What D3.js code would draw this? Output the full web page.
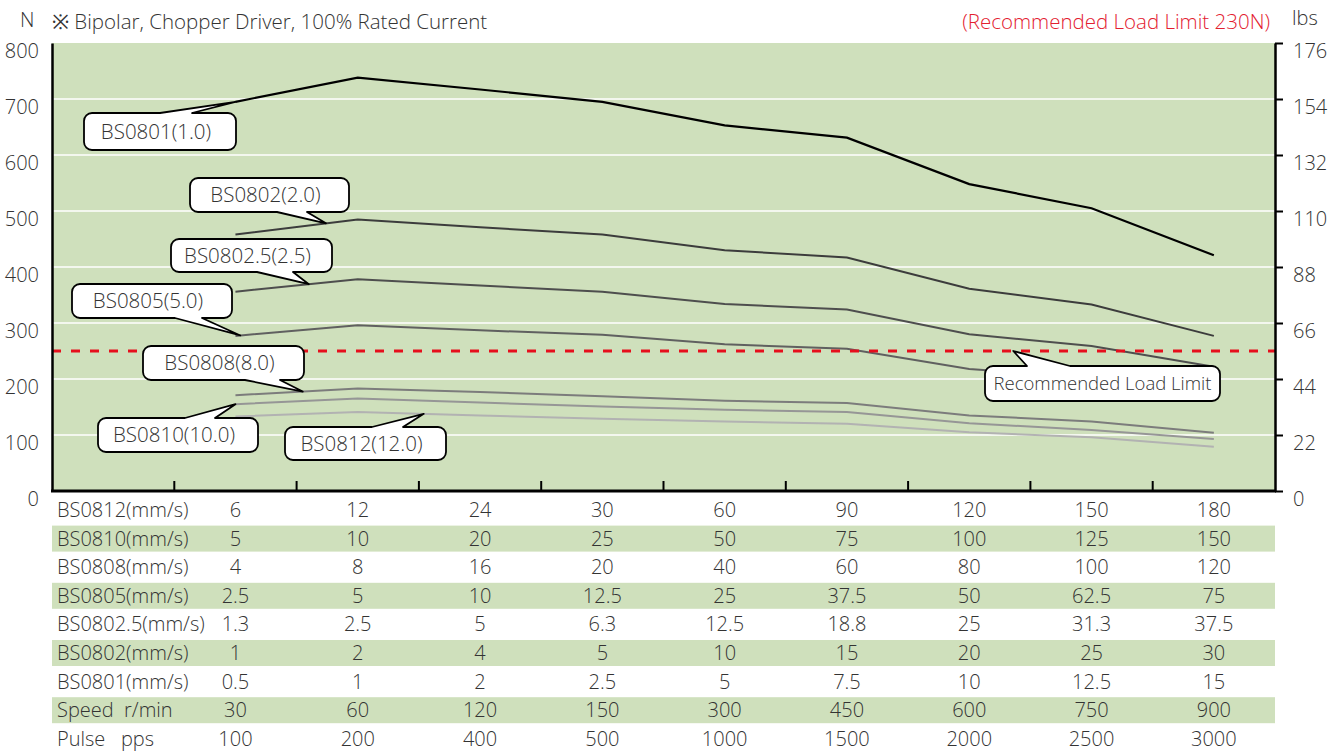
<!DOCTYPE html>
<html>
<head>
<meta charset="utf-8">
<script src="https://cdn.jsdelivr.net/npm/d3@7"></script>
<style>
  body { margin: 0; background: #fff; }
  text { font-family: 'Open Sans', sans-serif; font-weight: 300; fill: #333; }
</style>
</head>
<body>
<script>
const pulses = [100, 200, 400, 500, 1000, 1500, 2000, 2500, 3000]

const bs0812Speed = ['6', '12', '24', '30', '60', '90', '120', '150', '180']
const bs0810Speed = ['5', '10', '20', '25', '50', '75', '100', '125', '150']
const bs0808Speed = ['4', '8', '16', '20', '40', '60', '80', '100', '120']
const bs0805Speed = ['2.5', '5', '10', '12.5', '25', '37.5', '50', '62.5', '75']
const bs08025Speed = ['1.3', '2.5', '5', '6.3', '12.5', '18.8', '25', '31.3', '37.5']
const bs0802Speed = ['1', '2', '4', '5', '10', '15', '20', '25', '30']
const bs0801Speed = ['0.5', '1', '2', '2.5', '5', '7.5', '10', '12.5', '15']
const rpm = ['30', '60', '120', '150', '300', '450', '600', '750', '900']

const rowLabels = ['BS0812(mm/s)', 'BS0810(mm/s)', 'BS0808(mm/s)', 'BS0805(mm/s)', 'BS0802.5(mm/s)',
  'BS0802(mm/s)', 'BS0801(mm/s)', 'Speed  r/min', 'Pulse   pps']
const rowValues = [bs0812Speed, bs0810Speed, bs0808Speed, bs0805Speed, bs08025Speed,
  bs0802Speed, bs0801Speed, rpm, pulses.map(String)]

// thrust in N
const bs0801 = [695, 738, 717, 695, 653, 631, 548, 505, 421]
const bs0802 = [458, 485, 471, 458, 430, 417, 361, 333, 277]
const bs08025 = [356, 378, 367, 356, 334, 324, 280, 259, 222]
const bs0805 = [277, 296, 287, 279, 262, 254, 218, 202, 173]
const bs0808 = [171, 183, 177, 169, 161, 157, 135, 124, 104]
const bs0810 = [155, 165, 158, 151, 145, 141, 121, 109, 93]
const bs0812 = [133, 141, 135, 129, 124, 120, 105, 96, 79]

const seriesNames = ['BS0801(1.0)', 'BS0802(2.0)', 'BS0802.5(2.5)', 'BS0805(5.0)', 'BS0808(8.0)', 'BS0810(10.0)', 'BS0812(12.0)']
const seriesValues = [bs0801, bs0802, bs08025, bs0805, bs0808, bs0810, bs0812]
const seriesColors = ['#000', '#3c3c3c', '#4e4e4e', '#606060', '#7c7c7c', '#969696', '#b2b2b2']

const loadLimit = 250
const nTicks = [0, 100, 200, 300, 400, 500, 600, 700, 800]
const lbsTicks = [0, 22, 44, 66, 88, 110, 132, 154, 176]

const green = '#cfe0bc'
const plotLeft = 52, plotRight = 1275, plotTop = 43, plotBottom = 491

const svg = d3.select('body').append('svg')
  .attr('width', 1344)
  .attr('height', 751)

const x = d3.scaleBand().domain(['label'].concat(pulses)).range([plotLeft, plotRight])
const xc = (d) => x(d) + x.bandwidth() / 2
const y = d3.scaleLinear().domain([0, 800]).range([plotBottom, plotTop])
const yLbs = d3.scaleLinear().domain([0, 176]).range([plotBottom, plotTop])

svg.append('rect')
  .attr('x', plotLeft).attr('y', plotTop)
  .attr('width', plotRight - plotLeft).attr('height', plotBottom - plotTop)
  .attr('fill', green)

svg.selectAll('.grid')
  .data(nTicks.filter(d => d > 0 && d < 800))
  .enter().append('line')
    .attr('class', 'grid')
    .attr('x1', plotLeft).attr('x2', plotRight)
    .attr('y1', d => y(d)).attr('y2', d => y(d))
    .attr('stroke', '#fff').attr('stroke-width', 1.6)

// table stripes
const rowY = (i) => 510 + i * 28.6
svg.selectAll('.stripe')
  .data(rowLabels.map((d, i) => i).filter(i => i % 2 === 1))
  .enter().append('rect')
    .attr('class', 'stripe')
    .attr('x', plotLeft).attr('width', plotRight - plotLeft)
    .attr('y', i => rowY(i) - 13).attr('height', 26)
    .attr('fill', green)

const line = d3.line()
  .x((d, i) => xc(pulses[i]))
  .y(d => y(d))

svg.selectAll('.curve')
  .data(seriesValues.slice().reverse())
  .enter().append('path')
    .attr('class', 'curve')
    .attr('d', line)
    .attr('fill', 'none')
    .attr('stroke', (d, i) => seriesColors[seriesColors.length - 1 - i])
    .attr('stroke-width', (d, i) => i === seriesColors.length - 1 ? 2.2 : 2)

svg.append('line')
  .attr('x1', plotLeft).attr('x2', plotRight)
  .attr('y1', y(loadLimit)).attr('y2', y(loadLimit))
  .attr('stroke', '#e60f1c').attr('stroke-width', 3)
  .attr('stroke-dasharray', '9,10')

// axes
const yAxisLeft = svg.append('g')
  .attr('transform', 'translate(' + plotLeft + ',0)')
  .call(d3.axisLeft(y).tickValues(nTicks).tickSize(0).tickPadding(13))
yAxisLeft.select('.domain').attr('stroke', '#000').attr('stroke-width', 2.5)

const yAxisRight = svg.append('g')
  .attr('transform', 'translate(' + plotRight + ',0)')
  .call(d3.axisRight(yLbs).tickValues(lbsTicks).tickSizeInner(8).tickSizeOuter(0).tickPadding(10))
yAxisRight.select('.domain').attr('stroke', '#000').attr('stroke-width', 2.5)
yAxisRight.selectAll('.tick line').attr('stroke', '#000').attr('stroke-width', 2)

svg.selectAll('.tick text')
  .attr('dy', '0.32em')
  .attr('transform', 'translate(0,8)')
  .style('font-size', '20px')
  .style('font-family', "'Open Sans', sans-serif")
  .attr('fill', '#333')

svg.selectAll('.xtick')
  .data(pulses)
  .enter().append('line')
    .attr('class', 'xtick')
    .attr('x1', d => x(d)).attr('x2', d => x(d))
    .attr('y1', plotBottom).attr('y2', plotBottom - 10)
    .attr('stroke', '#000').attr('stroke-width', 2)

svg.append('line')
  .attr('x1', plotLeft - 1).attr('x2', plotRight + 1)
  .attr('y1', plotBottom).attr('y2', plotBottom)
  .attr('stroke', '#000').attr('stroke-width', 3)

// callouts
const tipPoint = (values, t) => {
  const i0 = Math.min(Math.floor(t), values.length - 2)
  const f = t - i0
  return [xc(pulses[0]) + t * x.step(), y(values[i0] + f * (values[i0 + 1] - values[i0]))]
}

const callouts = [
  { text: seriesNames[0], tip: tipPoint(bs0801, 0), box: [84, 113, 236, 150], side: 'top', base: [160, 192] },
  { text: seriesNames[1], tip: tipPoint(bs0802, 0.74), box: [190, 178, 349, 212], side: 'bottom', base: [277, 307] },
  { text: seriesNames[2], tip: tipPoint(bs08025, 0.6), box: [171, 239, 332, 272], side: 'bottom', base: [257, 293] },
  { text: seriesNames[3], tip: tipPoint(bs0805, 0.04), box: [72, 284, 232, 318], side: 'bottom', base: [175, 202] },
  { text: seriesNames[4], tip: tipPoint(bs0808, 0.55), box: [143, 346, 304, 380], side: 'bottom', base: [245, 280] },
  { text: seriesNames[5], tip: tipPoint(bs0810, 0), box: [98, 418, 258, 452], side: 'top', base: [185, 215] },
  { text: seriesNames[6], tip: tipPoint(bs0812, 1.54), box: [285, 427, 446, 460], side: 'top', base: [372, 403] },
  { text: 'Recommended Load Limit', tip: [xc(pulses[0]) + 6.36 * x.step(), y(loadLimit)], box: [985, 366, 1220, 401], side: 'top', base: [1027, 1070], small: true }
]

const calloutPath = (c) => {
  const [x0, y0, x1, y1] = c.box
  const r = 8
  const [a, b] = c.base
  const [tx, ty] = c.tip
  let p = 'M' + (x0 + r) + ',' + y0
  if (c.side === 'top') p += 'L' + a + ',' + y0 + 'L' + tx + ',' + ty + 'L' + b + ',' + y0
  p += 'L' + (x1 - r) + ',' + y0 + 'A' + r + ',' + r + ' 0 0 1 ' + x1 + ',' + (y0 + r)
  p += 'L' + x1 + ',' + (y1 - r) + 'A' + r + ',' + r + ' 0 0 1 ' + (x1 - r) + ',' + y1
  if (c.side === 'bottom') p += 'L' + b + ',' + y1 + 'L' + tx + ',' + ty + 'L' + a + ',' + y1
  p += 'L' + (x0 + r) + ',' + y1 + 'A' + r + ',' + r + ' 0 0 1 ' + x0 + ',' + (y1 - r)
  p += 'L' + x0 + ',' + (y0 + r) + 'A' + r + ',' + r + ' 0 0 1 ' + (x0 + r) + ',' + y0 + 'Z'
  return p
}

const co = svg.selectAll('.callout')
  .data(callouts)
  .enter().append('g')
    .attr('class', 'callout')

co.append('path')
  .attr('d', calloutPath)
  .attr('fill', '#fff')
  .attr('stroke', '#000')
  .attr('stroke-width', 1.8)
  .attr('stroke-linejoin', 'round')

co.append('text')
  .attr('x', d => (d.box[0] + d.box[2]) / 2 - (d.small ? 0 : 4))
  .attr('y', d => (d.box[1] + d.box[3]) / 2)
  .attr('dy', '0.35em')
  .attr('text-anchor', 'middle')
  .style('font-size', d => d.small ? '18.5px' : '20.5px')
  .text(d => d.text)

// table text
svg.selectAll('.rowlabel')
  .data(rowLabels)
  .enter().append('text')
    .attr('class', 'rowlabel')
    .attr('x', 57)
    .attr('y', (d, i) => rowY(i))
    .attr('dy', '0.35em')
    .style('font-size', '20px')
    .style('white-space', 'pre')
    .text(d => d)

rowValues.forEach((vals, r) => {
  svg.selectAll('.cell' + r)
    .data(vals)
    .enter().append('text')
      .attr('class', 'cell' + r)
      .attr('x', (d, i) => xc(pulses[i]))
      .attr('y', rowY(r))
      .attr('dy', '0.35em')
      .attr('text-anchor', 'middle')
      .style('font-size', '20px')
      .text(d => d)
})

// titles
svg.append('text').attr('x', 20).attr('y', 20).attr('dy', '0.35em')
  .style('font-size', '20px').text('N')
svg.append('text').attr('x', 52).attr('y', 22).attr('dy', '0.35em')
  .style('font-size', '20.5px').text('※ Bipolar, Chopper Driver, 100% Rated Current')
svg.append('text').attr('x', 1270).attr('y', 22).attr('dy', '0.35em')
  .attr('text-anchor', 'end')
  .style('font-size', '20.5px').style('fill', '#e3202f')
  .text('(Recommended Load Limit 230N)')
svg.append('text').attr('x', 1292).attr('y', 18).attr('dy', '0.35em')
  .style('font-size', '20px').text('lbs')
</script>
</body>
</html>
